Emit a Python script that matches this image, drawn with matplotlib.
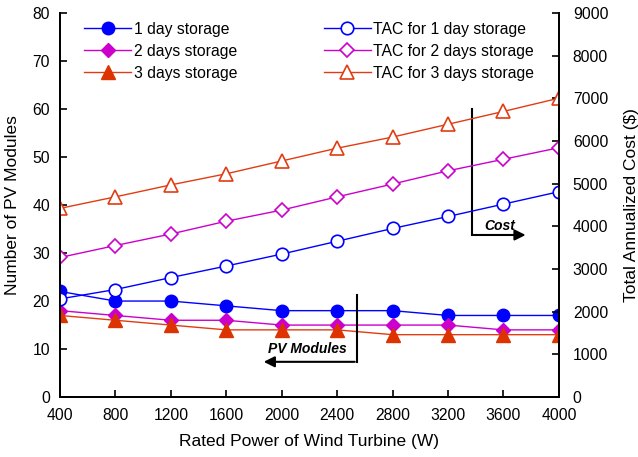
import matplotlib.pyplot as plt

plt.rcParams['font.family'] = ['Liberation Sans', 'DejaVu Sans']

# Rated power of the wind turbine (W)
rated_power = [400, 800, 1200, 1600, 2000, 2400, 2800, 3200, 3600, 4000]

# Number of PV modules for each storage size
pv_1day = [22, 20, 20, 19, 18, 18, 18, 17, 17, 17]
pv_2day = [18, 17, 16, 16, 15, 15, 15, 15, 14, 14]
pv_3day = [17, 16, 15, 14, 14, 14, 13, 13, 13, 13]

# Total annualized cost ($)
tac_1day = [2300, 2520, 2800, 3070, 3350, 3650, 3950, 4230, 4520, 4810]
tac_2day = [3270, 3550, 3820, 4120, 4380, 4690, 4990, 5300, 5570, 5840]
tac_3day = [4420, 4690, 4970, 5230, 5530, 5830, 6090, 6390, 6690, 7000]

blue = '#0000FF'
magenta = '#CC00CC'
red = '#E23C12'

fig = plt.figure(figsize=(6.38, 4.57), dpi=100)
ax = fig.add_axes([0.094, 0.131, 0.782, 0.841])
ax2 = ax.twinx()

# PV modules (left axis, filled markers)
l1, = ax.plot(rated_power, pv_1day, color=blue, marker='o', ms=9, lw=1.0, label='1 day storage')
l2, = ax.plot(rated_power, pv_2day, color=magenta, marker='D', ms=7, lw=1.0, label='2 days storage')
l3, = ax.plot(rated_power, pv_3day, color=red, marker='^', ms=10, mfc='#DD3300', mec='#DD3300',
              lw=1.0, label='3 days storage')

# Cost (right axis, hollow markers)
t1, = ax2.plot(rated_power, tac_1day, color=blue, marker='o', ms=9, mfc='white', mew=1.2, lw=1.0,
               label='TAC for 1 day storage')
t2, = ax2.plot(rated_power, tac_2day, color=magenta, marker='D', ms=7, mfc='white', mew=1.2, lw=1.0,
               label='TAC for 2 days storage')
t3, = ax2.plot(rated_power, tac_3day, color=red, marker='^', ms=10, mfc='white', mew=1.2, lw=1.0,
               label='TAC for 3 days storage')

ax.set_xlim(400, 4000)
ax.set_ylim(0, 80)
ax2.set_ylim(0, 9000)
ax.set_xticks(rated_power)
ax.set_yticks(range(0, 81, 10))
ax2.set_yticks(range(0, 9001, 1000))

for a in (ax, ax2):
    a.spines['top'].set_visible(False)
    for s in a.spines.values():
        s.set_linewidth(1.3)
    a.tick_params(direction='in', length=5, width=1.2, labelsize=11.3)
ax.tick_params(axis='x', pad=8)
ax.tick_params(axis='y', pad=7)
ax2.tick_params(axis='y', pad=10)

ax.set_xlabel('Rated Power of Wind Turbine (W)', fontsize=12.5, labelpad=8)
ax.set_ylabel('Number of PV Modules', fontsize=12.5, labelpad=9)
ax2.set_ylabel('Total Annualized Cost ($)', fontsize=12.5, labelpad=11)

leg1 = ax2.legend(handles=[l1, l2, l3], loc='upper left', bbox_to_anchor=(0.02, 1.014), frameon=False,
                  fontsize=11.3, handlelength=3.0, labelspacing=0.45, handletextpad=0.15)
ax2.add_artist(leg1)
ax2.legend(handles=[t1, t2, t3], loc='upper left', bbox_to_anchor=(0.5, 1.014), frameon=False,
           fontsize=11.3, handlelength=3.0, labelspacing=0.45, handletextpad=0.15)

# arrows pointing to the axis each group belongs to
ax.plot([2540, 2540], [21.2, 7.35], color='black', lw=1.5)
ax.annotate('', xy=(1850, 7.35), xytext=(2547, 7.35),
            arrowprops=dict(arrowstyle='-|>', color='black', lw=1.5, mutation_scale=16))
ax.text(2188, 10.1, 'PV Modules', ha='center', va='center', fontsize=10,
        fontweight='bold', style='italic')

ax.plot([3371, 3371], [59.9, 33.75], color='black', lw=1.5)
ax.annotate('', xy=(3780, 33.75), xytext=(3364, 33.75),
            arrowprops=dict(arrowstyle='-|>', color='black', lw=1.5, mutation_scale=16))
ax.text(3573, 35.6, 'Cost', ha='center', va='center', fontsize=10,
        fontweight='bold', style='italic')

fig.savefig('out.png', dpi=100)
